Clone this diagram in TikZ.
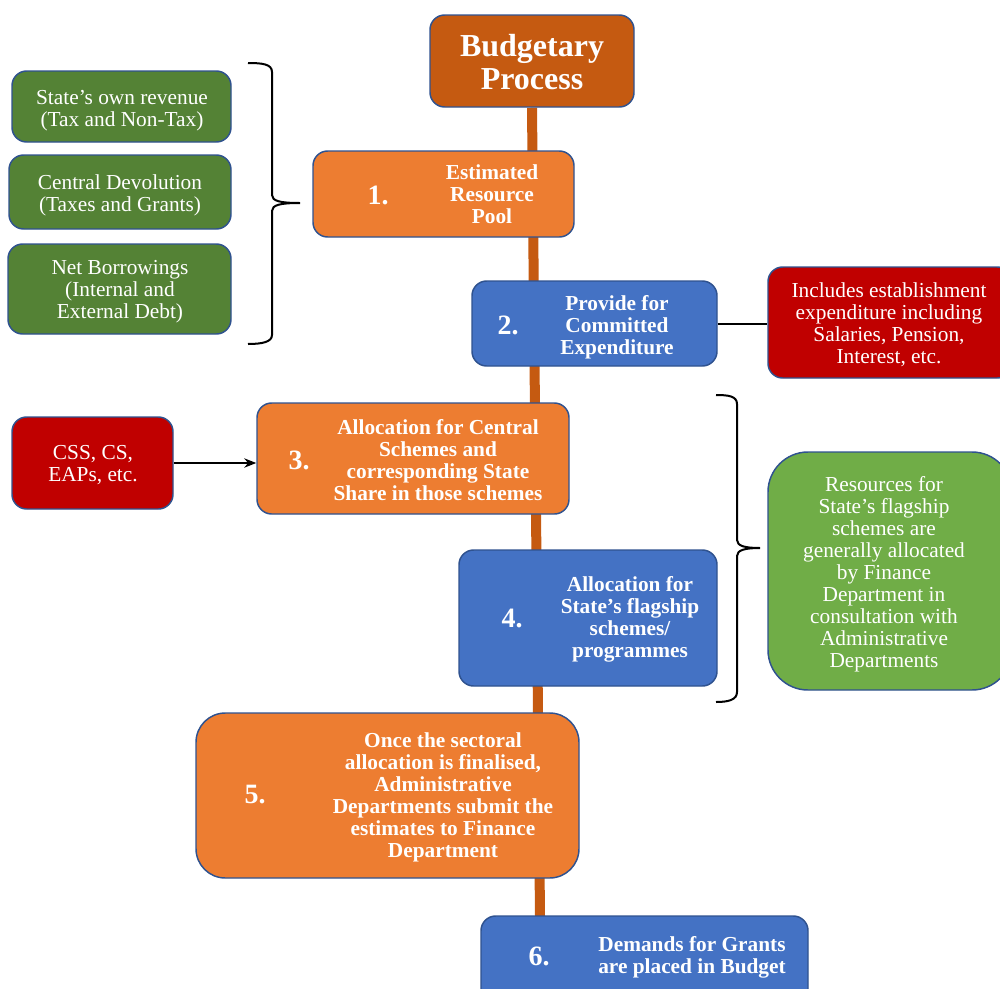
\documentclass[tikz,border=0pt]{standalone}
\usepackage{fontspec}
\setmainfont{Liberation Serif}
\usetikzlibrary{backgrounds,arrows.meta,fit}
\definecolor{titlec}{HTML}{C55A11}
\definecolor{orangec}{HTML}{ED7D31}
\definecolor{bluec}{HTML}{4472C4}
\definecolor{redc}{HTML}{C00000}
\definecolor{dgreen}{HTML}{548235}
\definecolor{lgreen}{HTML}{70AD47}
\definecolor{bordc}{HTML}{2F528F}
\begin{document}
\begin{tikzpicture}[x=0.75pt,y=-0.75pt,
  box/.style={draw=bordc, line width=1.1pt, rounded corners=11pt, inner sep=0pt},
  btxt/.style={text=white, font=\bfseries\fontsize{16}{16.5}\selectfont, align=center, inner sep=0pt},
  ntxt/.style={text=white, font=\fontsize{16}{16.5}\selectfont, align=center, inner sep=0pt},
  num/.style={text=white, font=\bfseries\fontsize{21}{21}\selectfont, inner sep=0pt},
  trunk/.style={draw=titlec, line width=7.5pt},
  bracestyle/.style={draw=black, line width=1.5pt},
  link/.style={draw=black, line width=1.5pt}
]
\clip (0,0) rectangle (1000,989);
% title
\node[box, fill=titlec, fit={(430,15) (634,107)}] (title) {};
\node[btxt, font=\bfseries\fontsize{24}{24.75}\selectfont] (titletxt) at (532,62) {Budgetary\\Process};
% step 1
\node[box, fill=orangec, fit={(313,151) (574,237)}] (b1) {};
\node[num] (n1) at (378,195) {1.};
\node[btxt] (t1) at (492,194) {Estimated\\Resource\\Pool};
% green sources
\node[box, fill=dgreen, fit={(12,71) (231,142)}] (g1) {};
\node[ntxt] (tg1) at (122,111) {State’s own revenue\\(Tax and Non-Tax)};
\node[box, fill=dgreen, fit={(9,155) (231,229)}] (g2) {};
\node[ntxt] (tg2) at (120,195) {Central Devolution\\(Taxes and Grants)};
\node[box, fill=dgreen, fit={(8,244) (231,334)}] (g3) {};
\node[ntxt] (tg3) at (120,292) {Net Borrowings\\(Internal and\\External Debt)};
% step 2
\node[box, fill=bluec, fit={(472,281) (717,366)}] (b2) {};
\node[num] (n2) at (508,325) {2.};
\node[btxt] (t2) at (617,327) {Provide for\\Committed\\Expenditure};
\node[box, fill=redc, fit={(768,267) (1012,378)}] (r1) {};
\node[ntxt] (tr1) at (889,325) {Includes establishment\\expenditure including\\Salaries, Pension,\\Interest, etc.};
% step 3
\node[box, fill=orangec, fit={(257,403) (569,514)}] (b3) {};
\node[num] (n3) at (299,460) {3.};
\node[btxt] (t3) at (438,460) {Allocation for Central\\Schemes and\\corresponding State\\Share in those schemes};
\node[box, fill=redc, fit={(12,417) (173,509)}] (css) {};
\node[ntxt] (tcss) at (93,465) {CSS, CS,\\EAPs, etc.};
% step 4
\node[box, fill=bluec, fit={(459,550) (717,686)}] (b4) {};
\node[num] (n4) at (512,618) {4.};
\node[btxt] (t4) at (630,619) {Allocation for\\State’s flagship\\schemes/\\programmes};
\node[box, fill=lgreen, rounded corners=30pt, fit={(768,452) (1012,690)}] (g4) {};
\node[ntxt] (tg4) at (884,574) {Resources for\\State’s flagship\\schemes are\\generally allocated\\by Finance\\Department in\\consultation with\\Administrative\\Departments};
% step 5
\node[box, fill=orangec, rounded corners=22pt, fit={(196,713) (579,878)}] (b5) {};
\node[num] (n5) at (255,795) {5.};
\node[btxt] (t5) at (443,797) {Once the sectoral\\allocation is finalised,\\Administrative\\Departments submit the\\estimates to Finance\\Department};
% step 6
\node[box, fill=bluec, fit={(481,916) (808,1005)}] (b6) {};
\node[num] (n6) at (539,956) {6.};
\node[btxt] (t6) at (692,957) {Demands for Grants\\are placed in Budget};
% trunk
\coordinate (tend) at (540,916);
\begin{scope}[on background layer]
\draw[trunk] (title.south) -- (tend);
\end{scope}
% connectors
\draw[link] (b2.east) -- (b2.east -| r1.west);
\draw[link, -{Stealth[length=9pt,width=7pt]}] (css.east) -- (css.east -| b3.west);
% braces
\draw[bracestyle] (248,63) .. controls (262,63) and (272,64) .. (272,72) -- (272,195) .. controls (272,201) and (280,203) .. (300,203) .. controls (280,203) and (272,205) .. (272,211) -- (272,335) .. controls (272,342) and (262,344) .. (248,344);
\draw[bracestyle] (716,395) .. controls (728,395) and (737,396) .. (737,404) -- (737,540) .. controls (737,546) and (745,548) .. (760,548) .. controls (745,548) and (737,550) .. (737,556) -- (737,692) .. controls (737,700) and (728,702) .. (716,702);
\end{tikzpicture}
\end{document}
